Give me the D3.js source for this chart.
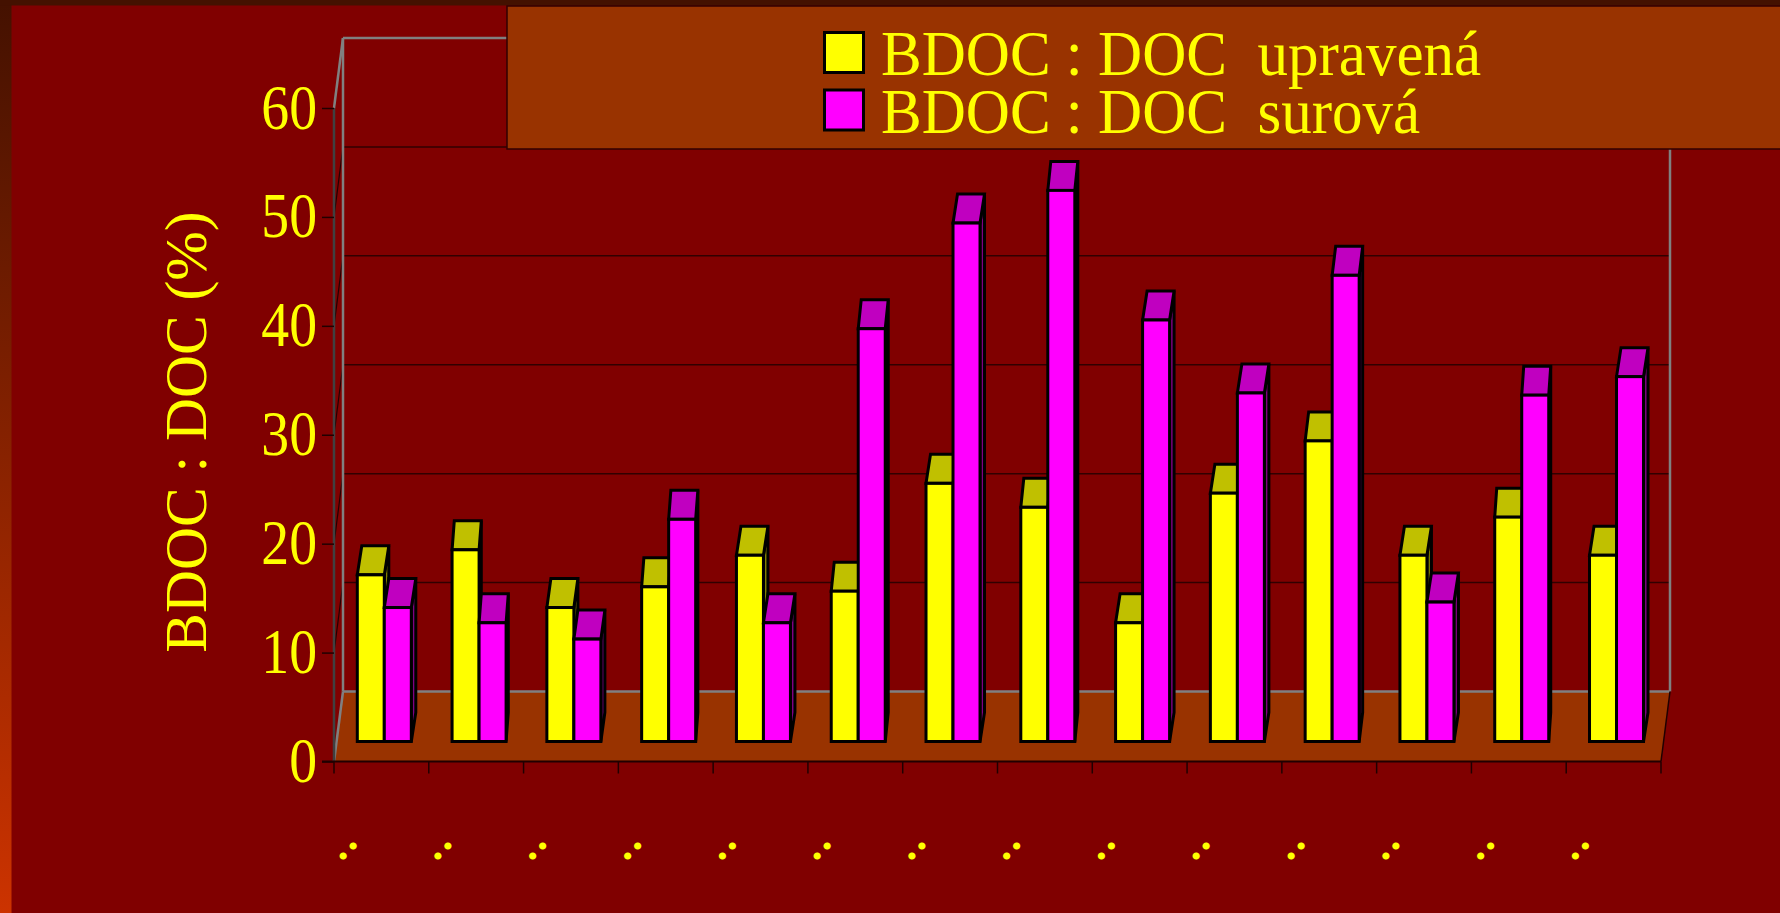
<!DOCTYPE html>
<html><head><meta charset="utf-8">
<script src="https://cdn.jsdelivr.net/npm/d3@7"></script>
<style>html,body{margin:0;padding:0;background:#800000;overflow:hidden}svg{display:block}text{font-family:"Liberation Serif",serif;fill:#ffff00;white-space:pre}</style>
</head><body><svg id="c" width="1780" height="913"></svg>
<script>
const categories = [":",":",":",":",":",":",":",":",":",":",":",":",":",":"];
const seriesNames = ["BDOC : DOC  upravená","BDOC : DOC  surová"];
const upravena = [15.3,17.6,12.3,14.2,17.1,13.8,23.7,21.5,10.9,22.8,27.6,17.1,20.6,17.1];
const surova = [12.3,10.9,9.4,20.4,10.9,37.9,47.6,50.6,38.7,32.0,42.8,12.8,31.8,33.5];
const yTicks = [0,10,20,30,40,50,60];
const yTitle = "BDOC : DOC (%)";
const fronts = ["#ffff00","#ff00ff"], tops = ["#c0c000","#c000c0"], sides = ["#808000","#800080"];
const skew = [4.5,2.2,4,2.2,4.5,3,4.5,3,4.5,4.5,3.5,4.5,2,4.5];

const svg = d3.select("#c");
const defs = svg.append("defs");
const g = defs.append("linearGradient").attr("id","band").attr("x1",0).attr("x2",0).attr("y1",0).attr("y2",1);
g.append("stop").attr("offset",0).attr("stop-color","#441100");
g.append("stop").attr("offset",1).attr("stop-color","#cc3300");

svg.append("rect").attr("width",1780).attr("height",913).attr("fill","#800000");
svg.append("rect").attr("width",11.5).attr("height",913).attr("fill","url(#band)");
svg.append("rect").attr("width",1780).attr("height",5.5).attr("fill","#441100");

const L=334,R=1661,D=9,H=70,B=20;
const x = d3.scaleBand().domain(d3.range(categories.length)).range([L,R]);
const y = d3.scaleLinear().domain([0,60]).range([761.5,108]);

// floor
svg.append("polygon").attr("fill","#993300")
  .attr("points",[[L+D,y(0)-H],[R+D,y(0)-H],[R,y(0)],[L,y(0)]].join(" "));
// back grid
const gy = yTicks.filter(v=>v>0&&v<60);
svg.append("g").selectAll("line").data(gy).join("line")
  .attr("x1",L+D).attr("x2",R+D).attr("y1",v=>y(v)-H).attr("y2",v=>y(v)-H)
  .attr("stroke","#300000").attr("stroke-width",1.5);
svg.append("g").selectAll("line").data(gy).join("line")
  .attr("x1",L).attr("x2",L+D).attr("y1",v=>y(v)).attr("y2",v=>y(v)-H)
  .attr("stroke","#200000").attr("stroke-width",1.2);
// walls
const grey="#808080";
const gl=(x1,y1,x2,y2,c,w)=>svg.append("line").attr("x1",x1).attr("y1",y1).attr("x2",x2).attr("y2",y2).attr("stroke",c).attr("stroke-width",w);
gl(L+D,y(60)-H,R+D,y(60)-H,grey,2.5);
gl(L+D,y(60)-H,L+D,y(0)-H,grey,2.5);
gl(R+D,y(60)-H,R+D,y(0)-H,grey,2.5);
gl(L+D,y(0)-H,R+D,y(0)-H,grey,2.5);
gl(L+D,y(60)-H,L,y(60),grey,2.5);
gl(L+D,y(0)-H,L,y(0),grey,2.5);
gl(R+D,y(0)-H,R,y(0),"#200000",1.5);
gl(L,y(60),L,y(0),"#404040",2.5);

// axes
const ya = svg.append("g").attr("transform",`translate(${L},0)`)
  .call(d3.axisLeft(y).tickValues(yTicks).tickSize(12).tickPadding(0));
ya.select(".domain").remove();
ya.selectAll("line").attr("stroke","#200000").attr("stroke-width",1.5);
ya.selectAll("text").attr("font-size",63).attr("text-anchor","end").attr("dy",null)
  .attr("x",null).attr("y",null)
  .attr("transform","translate(-17,20) scale(0.885,1)").style("fill","#ffff00");

const edges = d3.range(categories.length+1).map(i=> i<categories.length ? x(i) : R);
svg.append("line").attr("x1",L-12).attr("x2",R).attr("y1",y(0)).attr("y2",y(0)).attr("stroke","#200000").attr("stroke-width",2);
svg.append("g").selectAll("line").data(edges).join("line")
  .attr("x1",d=>d).attr("x2",d=>d).attr("y1",y(0)).attr("y2",y(0)+12)
  .attr("stroke","#200000").attr("stroke-width",1.5);
svg.append("g").selectAll("text").data(categories).join("text")
  .attr("text-anchor","middle").attr("font-size",44).attr("font-weight","bold")
  .attr("transform",(d,i)=>`translate(${x(i)+x.bandwidth()/2-33},851) rotate(45)`)
  .attr("dy","0.23em").text(d=>d);

// bars
const inset = 23.3, barW = 27, dy = 29;
const series = [upravena,surova];
const bars = svg.append("g");
categories.forEach((c,i)=>{
  series.forEach((vals,s)=>{
    const x0 = x(i)+inset+s*barW, x1=x0+barW, yt=y(vals[i])-B, yb=y(0)-B, dx=skew[i];
    const k = bars.append("g").attr("stroke","#000").attr("stroke-width",3).attr("stroke-linejoin","miter");
    k.append("polygon").attr("fill",sides[s]).attr("points",[[x1,yb],[x1,yt],[x1+dx,yt-dy],[x1+dx,yb-dy]].join(" "));
    k.append("polygon").attr("fill",tops[s]).attr("points",[[x0,yt],[x1,yt],[x1+dx,yt-dy],[x0+dx,yt-dy]].join(" "));
    k.append("rect").attr("fill",fronts[s]).attr("x",x0).attr("y",yt).attr("width",barW).attr("height",yb-yt);
  });
});

// legend
svg.append("rect").attr("x",507).attr("y",6).attr("width",1290).attr("height",143)
  .attr("fill","#993300").attr("stroke","#300000").attr("stroke-width",1.5);
const lg = svg.append("g").selectAll("g").data(seriesNames).join("g");
lg.append("rect").attr("x",824.5).attr("y",(d,i)=>32.5+i*57.5).attr("width",39).attr("height",40)
  .attr("fill",(d,i)=>fronts[i]).attr("stroke","#000").attr("stroke-width",3);
lg.append("text").attr("transform",(d,i)=>`translate(881,${75+i*58}) scale(0.954,1)`).attr("font-size",64).text(d=>d);

// y title
svg.append("text").attr("transform","translate(206,432) rotate(-90)")
  .attr("text-anchor","middle").attr("font-size",59.5).text(yTitle);
</script></body></html>
